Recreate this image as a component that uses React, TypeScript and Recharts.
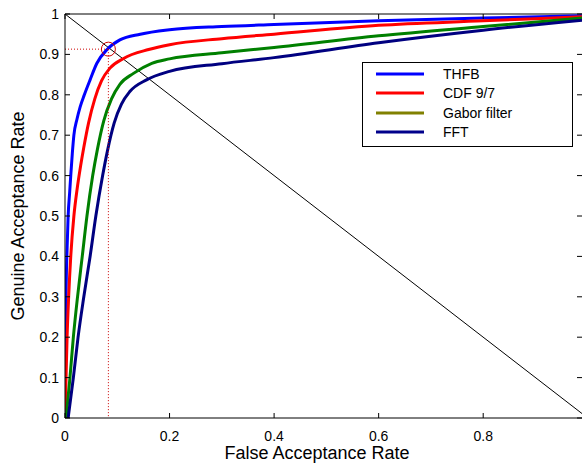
import React from "react";
import {
  LineChart,
  Line,
  XAxis,
  YAxis,
  ReferenceLine,
  ReferenceDot,
} from "recharts";

// false acceptance rate (x) / genuine acceptance rate (y)
const thfbFar = [0, 0.001, 0.002, 0.004, 0.006, 0.009, 0.011, 0.014, 0.017, 0.023, 0.029, 0.037, 0.048, 0.061, 0.081, 0.105, 0.144, 0.2, 0.3, 0.4, 0.6, 0.8, 1.0];
const thfbGar = [0, 0.15, 0.3, 0.42, 0.5, 0.56, 0.6, 0.655, 0.7, 0.74, 0.77, 0.8, 0.837, 0.878, 0.913, 0.936, 0.95, 0.961, 0.969, 0.974, 0.983, 0.99, 0.996];

const cdfFar = [0, 0.002, 0.004, 0.007, 0.011, 0.017, 0.023, 0.03, 0.036, 0.045, 0.057, 0.07, 0.086, 0.112, 0.16, 0.2, 0.3, 0.4, 0.6, 0.8, 1.0];
const cdfGar = [0, 0.1, 0.2, 0.3, 0.4, 0.5, 0.565, 0.625, 0.67, 0.73, 0.79, 0.835, 0.866, 0.89, 0.912, 0.924, 0.939, 0.95, 0.972, 0.983, 0.994];

const gaborFar = [0.002, 0.0095, 0.016, 0.024, 0.033, 0.042, 0.053, 0.062, 0.074, 0.089, 0.105, 0.131, 0.166, 0.2, 0.3, 0.4, 0.6, 0.8, 1.0];
const gaborGar = [0, 0.1, 0.2, 0.3, 0.4, 0.5, 0.6, 0.665, 0.735, 0.79, 0.826, 0.853, 0.878, 0.889, 0.904, 0.917, 0.946, 0.969, 0.991];

const fftFar = [0.006, 0.016, 0.025, 0.036, 0.048, 0.059, 0.072, 0.081, 0.094, 0.108, 0.124, 0.156, 0.2, 0.3, 0.4, 0.6, 0.8, 1.0];
const fftGar = [0, 0.1, 0.2, 0.3, 0.4, 0.5, 0.6, 0.66, 0.73, 0.777, 0.808, 0.837, 0.858, 0.877, 0.892, 0.929, 0.96, 0.986];

const diagFar = [0, 1];
const diagGar = [1, 0];

// operating point marked with the circle
const eerFar = 0.083;
const eerGar = 0.913;

const xTicks = [0, 0.2, 0.4, 0.6, 0.8];
const yTicks = [0, 0.1, 0.2, 0.3, 0.4, 0.5, 0.6, 0.7, 0.8, 0.9, 1];

const toPoints = (xs: number[], ys: number[]) => xs.map((x, i) => ({ x, y: ys[i] }));

const SERIES = [
  { name: "THFB", data: toPoints(thfbFar, thfbGar), color: "#0000ff", legend: "#0000ff" },
  { name: "CDF 9/7", data: toPoints(cdfFar, cdfGar), color: "#ff0000", legend: "#ff0000" },
  { name: "Gabor filter", data: toPoints(gaborFar, gaborGar), color: "#008000", legend: "#808000" },
  { name: "FFT", data: toPoints(fftFar, fftGar), color: "#000080", legend: "#00008b" },
];

const FONT = "'Liberation Sans', Arial, Helvetica, sans-serif";
const W = 582;
const H = 467;
const TOP = 14;
const BOTTOM = 418;

function YTick({ x, y, payload }: any) {
  return (
    <g>
      <line x1={x} x2={x + 5} y1={y} y2={y} stroke="#000" />
      <line x1={W - 5} x2={W} y1={y} y2={y} stroke="#000" />
      <text x={x - 6} y={y + 5} textAnchor="end" fontSize={14} fontFamily={FONT} fill="#000">
        {payload.value}
      </text>
    </g>
  );
}

function XTick({ x, y, payload }: any) {
  return (
    <g>
      <line x1={x} x2={x} y1={y} y2={y - 5} stroke="#000" />
      <line x1={x} x2={x} y1={TOP} y2={TOP + 5} stroke="#000" />
      <text x={x} y={y + 23} textAnchor="middle" fontSize={14} fontFamily={FONT} fill="#000">
        {payload.value}
      </text>
    </g>
  );
}

function YLabel() {
  return (
    <text
      x={18}
      y={216}
      transform="rotate(-90 18 216)"
      textAnchor="middle"
      dominantBaseline="central"
      fontSize={18}
      fontFamily={FONT}
      fill="#000"
    >
      Genuine Acceptance Rate
    </text>
  );
}

function XLabel() {
  return (
    <text x={317} y={459} textAnchor="middle" fontSize={18} fontFamily={FONT} fill="#000">
      False Acceptance Rate
    </text>
  );
}

function LegendBox() {
  return (
    <div
      style={{
        position: "absolute",
        left: 362,
        top: 62,
        width: 211,
        height: 85,
        border: "1px solid #000",
        background: "#fff",
        fontFamily: FONT,
        fontSize: 14,
        paddingTop: 1,
        boxSizing: "border-box",
      }}
    >
      {SERIES.map((s) => (
        <div key={s.name} style={{ display: "flex", alignItems: "center", height: 19.5 }}>
          <svg width={80} height={10} style={{ flexShrink: 0 }}>
            <line x1={13} x2={61} y1={5} y2={5} stroke={s.legend} strokeWidth={3} />
          </svg>
          <span>{s.name}</span>
        </div>
      ))}
    </div>
  );
}

export default function App() {
  return (
    <div style={{ position: "absolute", left: 0, top: 0, width: W, height: H, background: "#fff" }}>
      <LineChart width={W} height={H} margin={{ top: TOP, right: 0, bottom: 0, left: 0 }}>
        <XAxis
          type="number"
          dataKey="x"
          domain={[0, 0.989]}
          allowDataOverflow
          ticks={xTicks}
          tick={<XTick />}
          tickLine={false}
          tickSize={0}
          tickMargin={0}
          axisLine={{ stroke: "#000" }}
          height={H - BOTTOM}
          label={<XLabel />}
        />
        <YAxis
          type="number"
          dataKey="y"
          domain={[0, 1]}
          allowDataOverflow
          ticks={yTicks}
          tick={<YTick />}
          tickLine={false}
          tickSize={0}
          tickMargin={0}
          axisLine={{ stroke: "#000" }}
          width={65}
          label={<YLabel />}
        />
        <ReferenceLine y={1} stroke="#000" strokeWidth={1} />
        <Line
          data={toPoints(diagFar, diagGar)}
          dataKey="y"
          type="linear"
          stroke="#000"
          strokeWidth={1}
          dot={false}
          activeDot={false}
          isAnimationActive={false}
        />
        {SERIES.map((s) => (
          <Line
            key={s.name}
            data={s.data}
            dataKey="y"
            name={s.name}
            type="monotone"
            stroke={s.color}
            strokeWidth={3}
            dot={false}
            activeDot={false}
            isAnimationActive={false}
          />
        ))}
        <ReferenceLine
          segment={[{ x: 0, y: eerGar }, { x: eerFar, y: eerGar }]}
          stroke="#cc0000"
          strokeDasharray="1 2"
        />
        <ReferenceLine
          segment={[{ x: eerFar, y: eerGar }, { x: eerFar, y: 0 }]}
          stroke="#cc0000"
          strokeDasharray="1 2"
        />
        <ReferenceDot x={eerFar} y={eerGar} r={7} fill="none" stroke="#cc0000" strokeWidth={1} />
      </LineChart>
      <LegendBox />
    </div>
  );
}
